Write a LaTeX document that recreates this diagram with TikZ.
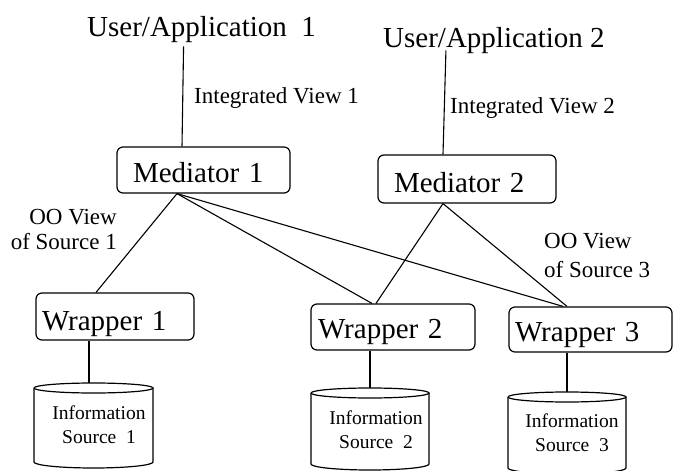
\documentclass[tikz,border=0pt]{standalone}
\usepackage{fontspec}
\setmainfont{Liberation Serif}
\tikzset{
 box/.style={draw,rounded corners=6pt,line width=1.2pt,anchor=center,inner ysep=0pt,align=left,
   font=\fontsize{29pt}{31pt}\selectfont},
 lnk/.style={line width=1.1pt},
 lab/.style={font=\fontsize{23pt}{25pt}\selectfont,inner sep=0},
 big/.style={font=\fontsize{29pt}{31pt}\selectfont,inner sep=0,anchor=base west},
 src/.style={font=\fontsize{19.5pt}{24pt}\selectfont,inner sep=0,align=center},
 cyl/.style={line width=1.2pt}
}
\newcommand{\cylshape}[4]{% x left, x right, y centre of top ellipse, y of side bottoms (px)
 \draw[cyl] (#1,-#3) arc[start angle=180,end angle=540,x radius={(#2-#1)/2},y radius=5];
 \draw[cyl] (#1,-#3) -- (#1,-#4) arc[start angle=180,end angle=360,x radius={(#2-#1)/2},y radius=6] -- (#2,-#3);
}
\begin{document}
\begin{tikzpicture}[x=1pt,y=1pt]
\useasboundingbox (0,0) rectangle (673,-471);
\fill[white] (0,0) rectangle (673,-471);
\clip (0,0) rectangle (673,-471);
\node[big] (u1) at (87,-36) {User/Application\ \ 1};
\node[big] (u2) at (383,-47) {User/Application 2};
\node[box,inner xsep=16pt,text width=141pt,text height=35pt,text depth=11pt] (m1) at (203.5,-170) {Mediator 1};
\node[box,inner xsep=16pt,text width=146pt,text height=37pt,text depth=11pt] (m2) at (467,-179) {Mediator 2};
\node[box,inner xsep=6pt,text width=146pt,text height=37pt,text depth=10pt] (w1) at (115,-316.5) {Wrapper 1};
\node[box,inner xsep=7pt,text width=150pt,text height=34pt,text depth=12pt] (w2) at (393,-327) {Wrapper 2};
\node[box,inner xsep=6pt,text width=151pt,text height=34pt,text depth=11pt] (w3) at (590.5,-329.5) {Wrapper 3};
\coordinate (c1) at (89,-383);
\coordinate (c2) at (370,-388);
\coordinate (c3) at (567,-392);
\cylshape{34}{153}{388}{462}
\cylshape{311}{429}{393}{464}
\cylshape{508}{626}{397}{468}
\node[src] (s1) at (99,-425) {Information\\Source\ \ 1};
\node[src] (s2) at (376,-430) {Information\\Source\ \ 2};
\node[src] (s3) at (572,-433) {Information\\Source\ \ 3};
\draw[lnk] ([xshift=-18pt,yshift=-4pt]u1.south) -- ([xshift=-21.5pt]m1.north);
\draw[lnk] ([xshift=-48pt,yshift=3pt]u2.south) -- ([xshift=-24pt]m2.north);
\draw[lnk] ([xshift=-26.5pt]m1.south) -- ([xshift=-19pt]w1.north);
\draw[lnk] ([xshift=-26.5pt]m1.south) -- ([xshift=-21pt]w2.north);
\draw[lnk] ([xshift=-26.5pt]m1.south) -- ([xshift=-27.5pt]w3.north);
\draw[lnk] ([xshift=-24pt]m2.south) -- ([xshift=-17pt]w2.north);
\draw[lnk] ([xshift=-24pt]m2.south) -- ([xshift=-23.5pt]w3.north);
\draw[lnk] (w1.south -| c1) -- (c1);
\draw[lnk] (w2.south -| c2) -- (c2);
\draw[lnk] (w3.south -| c3) -- (c3);
\node[lab,anchor=base west] (l1) at (194,-103) {Integrated View 1};
\node[lab,anchor=base west] (l2) at (450,-113) {Integrated View 2};
\node[lab,anchor=base east,align=right] (l3) at (117,-249) {OO View\\of Source 1};
\node[lab,anchor=base west,align=left,font=\fontsize{23pt}{29pt}\selectfont] (l4) at (544,-277) {OO View\\of Source 3};
\end{tikzpicture}
\end{document}
